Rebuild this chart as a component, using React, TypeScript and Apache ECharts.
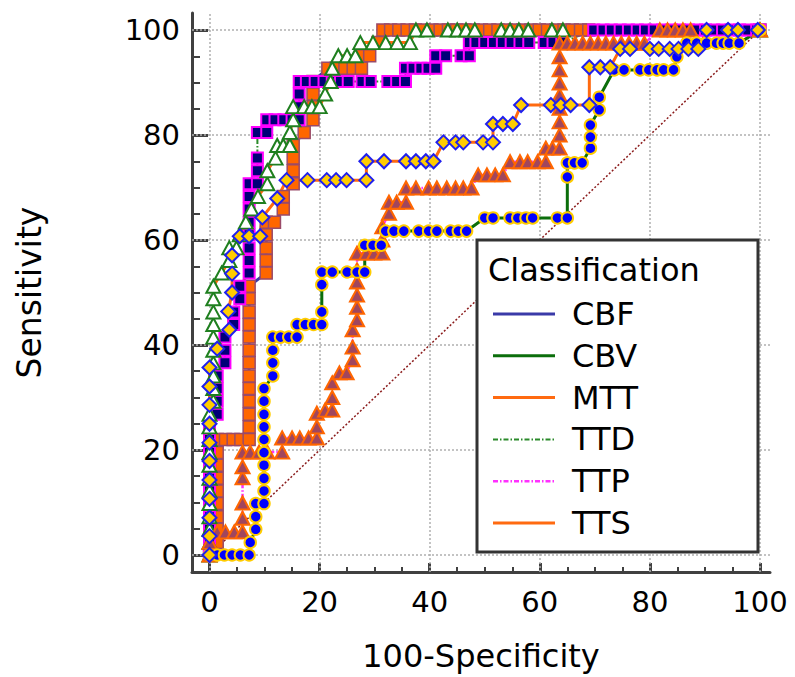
import React, { useEffect, useRef } from 'react';
import * as echarts from 'echarts';

const FONT = 'DejaVu Sans';
const TICKS = [0, 20, 40, 60, 80, 100];
const MINOR_TICKS = [5, 10, 15, 25, 30, 35, 45, 50, 55, 65, 70, 75, 85, 90, 95];
const X_TITLE = '100-Specificity';
const Y_TITLE = 'Sensitivity';
const LEGEND_TITLE = 'Classification';
const LEGEND_NAMES = ['CBF', 'CBV', 'MTT', 'TTD', 'TTP', 'TTS'];
const DIAGONAL = [[0, 0], [100, 100]];

// CBF (orange squares)
const CBF = [
  [0, 0], [1.4, 2.4], [1.4, 4.9], [1.4, 7.3], [1.4, 9.8], [1.4, 12.2], [1.4, 14.6], [1.4, 17.1], [1.4, 19.5], [1.4, 22],
  [2.9, 22], [4.3, 22], [5.7, 22], [7.2, 22], [7.2, 24.4], [7.2, 26.8], [7.2, 29.3], [7.2, 31.7], [7.2, 34.1], [7.2, 36.6],
  [7.2, 39], [7.2, 41.5], [7.2, 43.9], [7.2, 46.3], [7.2, 48.8], [7.2, 51.2], [10.3, 53.7], [10.3, 56.1], [10.3, 58.5],
  [10.3, 61], [10.3, 63.4], [11.8, 63.4], [13.4, 65.9], [13.4, 68.3], [15.2, 70.7], [15.2, 73.2], [15.2, 75.6], [15.2, 78],
  [17.2, 80.5], [18.8, 82.9], [18.8, 85.4], [18.8, 87.8], [18.8, 90.2], [21.5, 92.7], [23, 92.7], [24.6, 92.7], [26.1, 92.7],
  [27.6, 92.7], [27.6, 95.1], [29.1, 95.1], [30.6, 97.6], [31.5, 100], [32.9, 100], [34.4, 100], [35.9, 100], [37.4, 100],
  [38.9, 100], [40.4, 100], [41.9, 100], [43.4, 100], [44.9, 100], [46.4, 100], [47.9, 100], [49.4, 100], [50.9, 100],
  [52.4, 100], [53.9, 100], [55.4, 100], [56.9, 100], [58.4, 100], [59.9, 100], [61.4, 100], [62.9, 100], [64.4, 100],
  [65.9, 100], [67.4, 100], [68.9, 100], [100, 100],
];

// TTD (navy squares)
const TTD = [
  [0, 0], [0, 2.4], [0, 4.9], [0, 7.3], [0, 9.8], [0, 12.2], [0, 14.6], [0, 17.1], [0, 19.5], [0, 22], [0, 24.4],
  [1.4, 26.8], [1.4, 29.3], [1.4, 31.7], [1.4, 34.1], [2.8, 36.6], [2.8, 39], [2.8, 41.5], [4.4, 43.9], [4.4, 46.3],
  [5.5, 48.8], [5.5, 51.2], [7.2, 53.7], [7.2, 56.1], [7.2, 58.5], [7.2, 61], [7.2, 63.4], [7.2, 65.9], [7.2, 68.3],
  [7.2, 70.7], [8.7, 70.7], [8.7, 73.2], [8.7, 75.6], [8.7, 80.5], [10.4, 80.5], [10.4, 82.9], [11.9, 82.9], [13.5, 82.9],
  [15, 82.9], [16.3, 82.9], [16.3, 85.4], [16.3, 87.8], [16.3, 90.2], [17.6, 90.2], [19.2, 90.2], [20.8, 90.2], [22.3, 90.2],
  [23.8, 90.2], [25.2, 90.2], [27.7, 90.2], [29.2, 90.2], [32.4, 90.2], [34, 90.2], [35.6, 90.2], [35.6, 92.7], [37, 92.7],
  [38.4, 92.7], [39.7, 92.7], [41.1, 92.7], [41.1, 95.1], [42.9, 95.1], [45.7, 95.1], [47.2, 95.1], [47.2, 97.6], [48.4, 97.6],
  [50, 97.6], [51.6, 97.6], [53.2, 97.6], [54.8, 97.6], [56.4, 97.6], [58, 97.6], [60.8, 97.6], [62.4, 97.6], [64, 97.6],
  [69.8, 100], [71.5, 100], [73, 100], [74.6, 100], [76.1, 100], [77.7, 100], [79.2, 100], [80.8, 100], [82.3, 100],
  [83.9, 100], [85.4, 100], [87, 100], [88.5, 100], [90.1, 100], [91.6, 100], [93.2, 100], [94.7, 100], [96.3, 100],
  [97.8, 100], [99.4, 100], [100, 100],
];

// TTS (white triangles)
const TTS = [
  [0, 0], [0, 2.4], [0, 4.9], [0, 7.3], [0, 9.8], [0, 12.2], [0, 14.6], [0, 17.1], [0, 19.5], [0, 22], [0, 24.4], [0, 26.8],
  [0.7, 29.3], [0.7, 31.7], [0.7, 34.1], [0.7, 36.6], [0.7, 39], [0.7, 41.5], [0.7, 43.9], [0.7, 46.3], [0.7, 48.8],
  [0.7, 51.2], [2.2, 53.7], [3.6, 56.1], [3.6, 58.5], [4.9, 58.5], [5.5, 61], [6.6, 63.4], [7.6, 65.9], [8.8, 68.3],
  [10.5, 70.7], [10.5, 73.2], [12, 75.6], [12.3, 78], [13.4, 78], [14.6, 78], [14.6, 80.5], [15.2, 82.9], [15.2, 85.4],
  [17.2, 85.4], [18.6, 85.4], [20, 85.4], [21, 87.8], [22, 90.2], [22.3, 92.7], [23.4, 95.1], [25, 95.1], [26.5, 95.1],
  [27.4, 97.6], [29.7, 97.6], [32, 97.6], [34.1, 97.6], [36.4, 97.6], [37.5, 100], [39.5, 100], [43.3, 100], [45, 100],
  [46.6, 100], [48.2, 100], [53, 100], [54.6, 100], [56.2, 100], [57.9, 100], [62.2, 100], [64.2, 100], [100, 100],
];

// TTP (brown triangles)
const TTP = [
  [0, 0], [0, 2.4], [1.4, 4.4], [2.9, 4.4], [4.5, 4.4], [6, 4.4], [6, 7], [6, 9.9], [6, 14.7], [6, 16.8], [6, 19.6],
  [7.4, 19.6], [9, 19.6], [10.5, 19.6], [13.2, 19.6], [13.2, 22.3], [15, 22.3], [16.4, 22.3], [18, 22.3], [19.5, 22.3],
  [19.5, 24.4], [19.5, 27], [21, 27.6], [22.3, 27.6], [22.3, 30], [22.3, 32.8], [23.6, 34.7], [24.9, 34.7], [26, 37.2],
  [26, 39.6], [26, 42.9], [26.8, 44.8], [26.8, 47.2], [26.8, 49.5], [26.8, 52], [26.8, 54.3], [26.8, 57.5], [28.5, 57.5],
  [29.9, 57.5], [31.4, 57.5], [31.4, 60], [31.4, 62.5], [32.6, 65.1], [32.6, 67.2], [34, 67.2], [35.7, 67.2], [35.7, 69.9],
  [37.5, 69.9], [39.8, 69.9], [41.3, 69.9], [43.1, 69.9], [44.7, 69.9], [46.1, 69.9], [47.6, 69.9], [48.8, 72.4],
  [50.4, 72.4], [51.9, 72.4], [53.3, 72.4], [54.6, 74.9], [56.4, 74.9], [57.8, 74.9], [59.6, 74.9], [61.1, 74.9],
  [61.1, 77.5], [62.3, 77.5], [63.6, 77.5], [63.6, 80], [63.6, 82.5], [63.6, 85.1], [63.6, 87.6], [63.6, 89.9], [63.6, 92.4],
  [63.6, 94.9], [63.6, 97.5], [65, 97.5], [66.4, 97.5], [67.8, 97.5], [69.2, 97.5], [70.6, 97.5], [72, 97.5], [73.4, 97.5],
  [74.8, 97.5], [76.2, 97.5], [77.6, 97.5], [79, 97.5], [81.8, 100], [83.2, 100], [84.6, 100], [86, 100], [87.4, 100],
  [100, 100],
];

// CBV (blue circles)
const CBV = [
  [0, 0], [1.4, 0], [2.7, 0], [4.1, 0], [5.6, 0], [7.2, 0], [7.4, 2.4], [8.4, 4.9], [8.4, 7.3], [8.4, 9.8], [9.9, 9.8],
  [9.9, 12.2], [9.9, 14.6], [9.9, 17.1], [9.9, 19.5], [9.9, 22], [9.9, 24.4], [9.9, 26.8], [9.9, 29.3], [9.9, 31.7],
  [11.5, 34.1], [11.5, 36.6], [11.5, 39], [11.5, 41.5], [12.9, 41.5], [14.4, 41.5], [15.9, 41.5], [15.9, 43.9],
  [17.4, 43.9], [18.9, 43.9], [20.4, 43.9], [20.4, 46.3], [20.4, 51.5], [20.4, 53.9], [22.3, 53.9], [25, 53.9],
  [26.8, 53.9], [28.2, 53.9], [28.2, 59], [29.7, 59], [31.2, 59], [32, 61.7], [33.5, 61.7], [35.3, 61.7], [38, 61.7],
  [39.8, 61.7], [41.3, 61.7], [43.8, 61.7], [45.2, 61.7], [46.7, 61.7], [50, 64.2], [51.5, 64.2], [54.6, 64.2], [56, 64.2],
  [57.5, 64.2], [58.7, 64.2], [63.2, 64.2], [65, 64.2], [65, 72], [65, 74.7], [66.3, 74.7], [67.7, 74.7], [69.2, 77.5],
  [69.2, 79.6], [69.2, 81.9], [70.8, 84.8], [70.8, 87.2], [73.5, 92.4], [75.3, 92.4], [78.2, 92.4], [79.8, 92.4],
  [81.3, 92.4], [82.5, 92.4], [84.3, 92.4], [84.9, 94.9], [86.7, 97.5], [88.5, 97.5], [90.3, 97.5], [92.1, 97.5],
  [93.3, 97.5], [94.4, 97.5], [96.2, 97.5], [100, 100],
];

// MTT (yellow diamonds)
const MTT = [
  [0, 0], [0, 3.6], [0, 7.1], [0, 10.7], [0, 14.3], [0, 17.9], [0, 21.4], [0, 25], [0, 28.6], [0, 32.1], [0, 35.7],
  [1.4, 39.3], [3.6, 42.9], [3.4, 46.4], [4.1, 50], [4.1, 53.6], [4.1, 57.1], [5.5, 60.7], [7.2, 60.7], [9.2, 60.7],
  [9.6, 64.3], [12.3, 67.9], [14, 71.4], [17.8, 71.4], [21.3, 71.4], [23, 71.4], [24.9, 71.4], [28.5, 71.4], [28.5, 75],
  [31.7, 75], [35.7, 75], [37.5, 75], [39.3, 75], [40.7, 75], [42.5, 78.6], [44.7, 78.6], [46.1, 78.6], [49.7, 78.6],
  [51.5, 78.6], [51.5, 82.1], [53.3, 82.1], [55.1, 82.1], [56.6, 85.7], [62, 85.7], [63.8, 85.7], [65.6, 85.7], [69, 85.7],
  [69, 92.9], [71, 92.9], [72.8, 92.9], [74.6, 96.4], [76.4, 96.4], [80, 96.4], [81.6, 96.4], [83.6, 96.4], [85.2, 96.4],
  [87, 96.4], [88.8, 96.4], [90.3, 100], [94.2, 100], [96, 100], [99.6, 100],
];

const LINE_STYLES: Record<string, any> = {
  CBF: { color: '#3a3aa8', width: 3, type: 'solid' },
  CBV: { color: '#0b6e0b', width: 3, type: 'solid' },
  MTT: { color: '#ff6a10', width: 3, type: 'solid' },
  TTD: { color: '#2a8a2a', width: 2, type: [5, 2, 1.5, 2] },
  TTP: { color: '#ff30ff', width: 2.5, type: [5, 2, 1.5, 2] },
  TTS: { color: '#ff6a10', width: 3, type: 'solid' },
};

const X_MIN = -3.18;
const X_MAX = 101.82;
const Y_MIN = -3.24;
const Y_MAX = 103.24;

function curve(name: string, data: number[][], symbol: string, size: any, fill: string, border: string, bw: number) {
  const ls = LINE_STYLES[name];
  return {
    name,
    type: 'line',
    data,
    z: 5,
    silent: true,
    showAllSymbol: true,
    symbol,
    symbolSize: size,
    itemStyle: { color: fill, borderColor: border, borderWidth: bw, opacity: 1 },
    lineStyle: { color: ls.color, width: ls.width, type: ls.type },
    emphasis: { disabled: true },
  };
}

export default function App() {
  const ref = useRef<HTMLDivElement>(null);
  useEffect(() => {
    if (!ref.current) return;
    const chart = echarts.init(ref.current, undefined, { renderer: 'svg' });
    const axisColor = '#404040';
    const legendItems: any[] = [];
    LEGEND_NAMES.forEach((n, i) => {
      const y = 314 + i * 41.8;
      const ls = LINE_STYLES[n];
      legendItems.push({
        type: 'line',
        z: 101,
        shape: { x1: 493, y1: y, x2: 555, y2: y },
        style: { stroke: ls.color, lineWidth: ls.width, lineDash: Array.isArray(ls.type) ? ls.type : null },
      });
      legendItems.push({
        type: 'text',
        z: 101,
        x: 572,
        y,
        style: { text: n, fontSize: 32, fontFamily: FONT, fill: '#000', align: 'left', verticalAlign: 'middle' },
      });
    });
    const option: any = {
      animation: false,
      backgroundColor: '#ffffff',
      grid: { left: 192, top: 13, width: 578, height: 559, containLabel: false },
      xAxis: [
        {
          type: 'value', position: 'bottom', min: X_MIN, max: X_MAX,
          axisLine: { show: true, onZero: false, lineStyle: { color: axisColor, width: 3 } },
          axisTick: { show: true, inside: true, length: 9, customValues: TICKS, lineStyle: { color: axisColor, width: 3 } },
          axisLabel: { show: true, customValues: TICKS, fontSize: 29, fontFamily: FONT, color: '#000', margin: 15 },
          splitLine: { show: false },
          name: X_TITLE, nameLocation: 'middle', nameGap: 68,
          nameTextStyle: { fontSize: 32, fontFamily: FONT, color: '#000' },
        },
        {
          type: 'value', position: 'bottom', min: X_MIN, max: X_MAX,
          axisLine: { show: false, onZero: false },
          axisTick: { show: true, inside: true, length: 5, customValues: MINOR_TICKS, lineStyle: { color: axisColor, width: 2 } },
          axisLabel: { show: false },
          splitLine: { show: false },
        },
      ],
      yAxis: [
        {
          type: 'value', position: 'left', min: Y_MIN, max: Y_MAX,
          axisLine: { show: true, onZero: false, lineStyle: { color: axisColor, width: 3 } },
          axisTick: { show: true, inside: true, length: 16, customValues: TICKS, lineStyle: { color: axisColor, width: 3 } },
          axisLabel: { show: true, customValues: TICKS, fontSize: 29, fontFamily: FONT, color: '#000', margin: 12 },
          splitLine: { show: false },
          name: Y_TITLE, nameLocation: 'middle', nameGap: 146, nameRotate: 90,
          nameTextStyle: { fontSize: 33, fontFamily: FONT, color: '#000' },
        },
        {
          type: 'value', position: 'left', min: Y_MIN, max: Y_MAX,
          axisLine: { show: false, onZero: false },
          axisTick: { show: true, inside: true, length: 8, customValues: MINOR_TICKS, lineStyle: { color: axisColor, width: 2 } },
          axisLabel: { show: false },
          splitLine: { show: false },
        },
      ],
      series: [
        {
          name: 'diagonal',
          type: 'line',
          data: DIAGONAL,
          z: 1,
          silent: true,
          symbol: 'none',
          lineStyle: { color: '#8b1c1c', width: 1.5, type: [2, 2] },
          markLine: {
            silent: true,
            symbol: ['none', 'none'],
            label: { show: false },
            lineStyle: { color: '#b0b0b0', width: 1.5, type: [2, 2] },
            emphasis: { disabled: true },
            data: [
              ...TICKS.map((v) => ({ xAxis: v })),
              ...TICKS.map((v) => ({ yAxis: v })),
            ],
          },
        },
        curve('CBF', CBF, 'rect', 12, '#ff6600', '#9a4a68', 1.5),
        curve('TTD', TTD, 'rect', 11, '#000078', '#ff00ff', 2),
        curve('TTS', TTS, 'triangle', [14, 13], '#ffffff', '#1f7f1f', 2),
        curve('TTP', TTP, 'triangle', [14, 13], '#a0465e', '#ff6600', 2),
        curve('CBV', CBV, 'circle', 11.5, '#0000ff', '#ffcc00', 2),
        curve('MTT', MTT, 'diamond', 14, '#ffcc00', '#2020ee', 2),
      ],
      graphic: {
        elements: [
          {
            type: 'rect', z: 100,
            shape: { x: 477, y: 240, width: 281, height: 312 },
            style: { fill: '#ffffff', stroke: '#333333', lineWidth: 3 },
          },
          {
            type: 'text', z: 101, x: 488, y: 270,
            style: { text: LEGEND_TITLE, fontSize: 32, fontFamily: FONT, fill: '#000', align: 'left', verticalAlign: 'middle' },
          },
          ...legendItems,
        ],
      },
    };
    chart.setOption(option);
    return () => chart.dispose();
  }, []);
  return (
    <div
      ref={ref}
      style={{ position: 'absolute', left: 0, top: 0, width: 795, height: 677, background: '#fff' }}
    />
  );
}
